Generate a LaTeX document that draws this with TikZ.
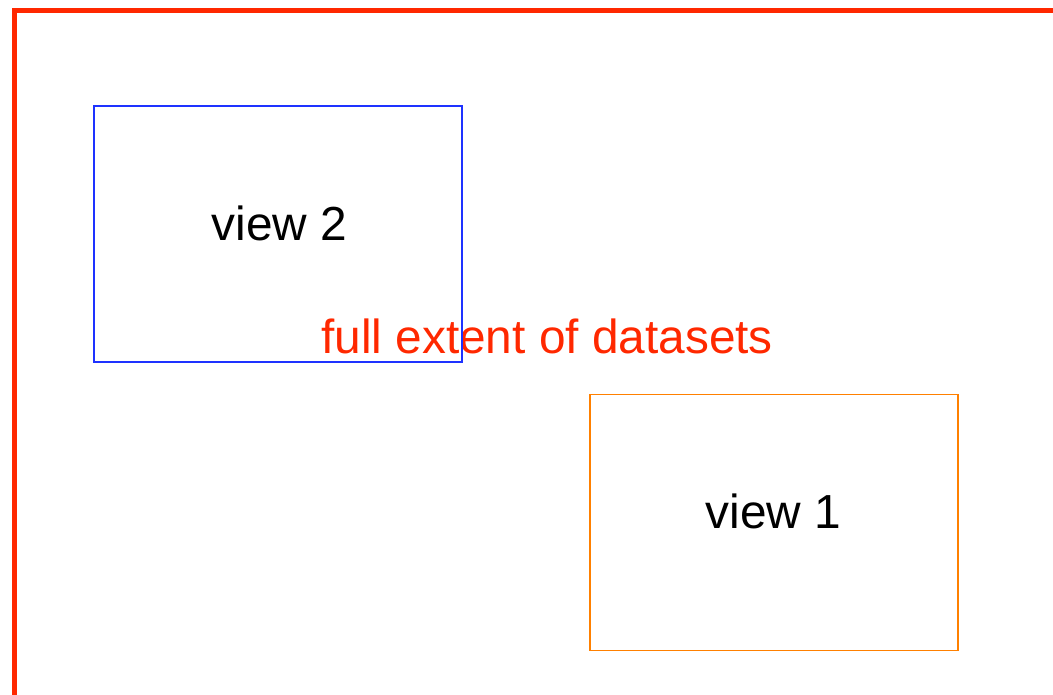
\documentclass[tikz,border=0pt]{standalone}
\usepackage{fontspec}
\setmainfont{Liberation Sans}
\definecolor{extentred}{RGB}{255, 40, 0}
\definecolor{viewblue}{RGB}{30, 50, 255}
\definecolor{vieworange}{RGB}{255, 128, 0}
\usetikzlibrary{positioning}

\begin{document}
\begin{tikzpicture}[x=1pt, y=-1pt,
  viewbox/.style={draw, line width=1.5pt, outer sep=0pt, minimum width=368pt, minimum height=256pt, anchor=north west},
  lbl/.style={anchor=base west, inner sep=0pt, font=\fontsize{47.8}{57}\selectfont},
]
\useasboundingbox (0,0) rectangle (1053,694);

% full extent
\draw[extentred, line width=5pt] (14.5,700) -- (14.5,10.5) -- (1060,10.5);
\node[lbl, extentred] (extent) at (321,353.3) {full extent of datasets};

% views
\node[viewbox, viewblue] (v2) at (94,106) {};
\node[viewbox, vieworange] (v1) at (590,394.5) {};

\node[lbl] (v2lbl) at (211.3,240.3) {view 2};
\node[lbl] (v1lbl) at (705.6,528.3) {view 1};
\end{tikzpicture}
\end{document}
